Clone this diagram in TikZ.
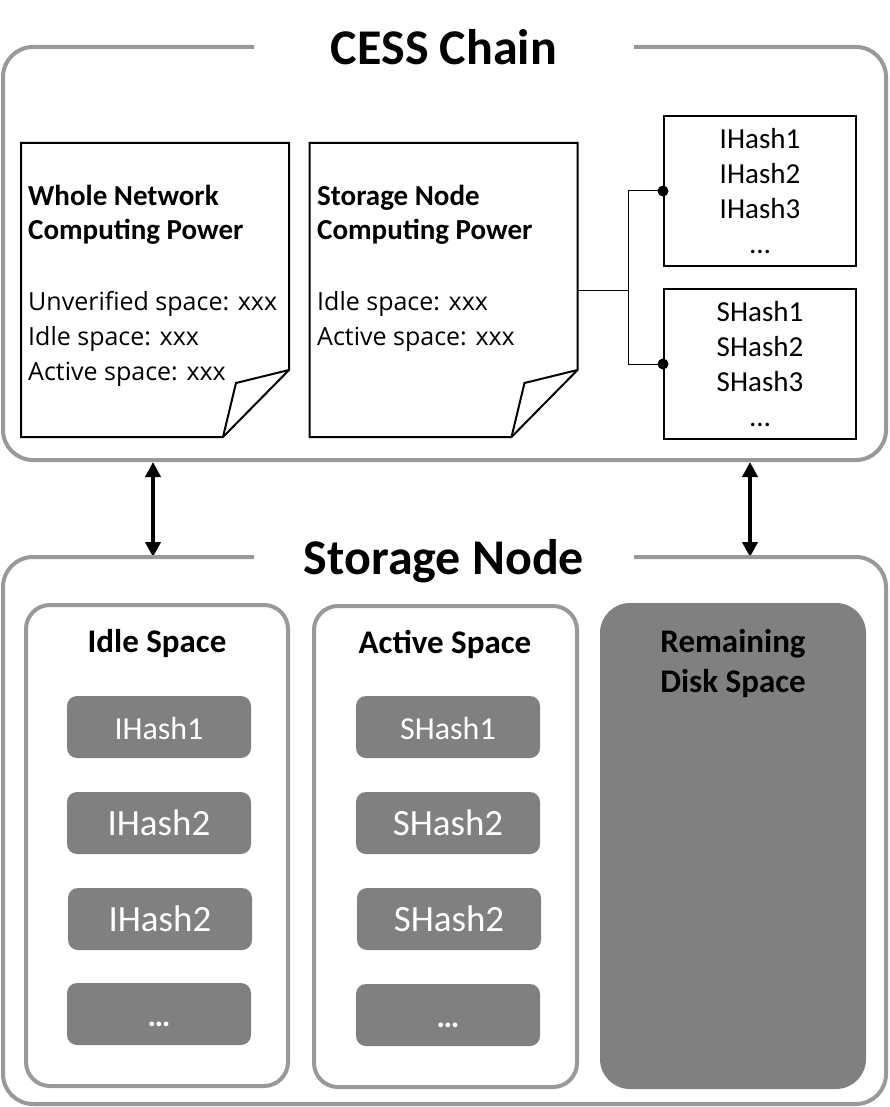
\documentclass[tikz,border=0pt]{standalone}
\usepackage{fontspec}
\setmainfont{Carlito}
\newfontfamily\docfont{Open Sans}
\usetikzlibrary{arrows.meta}
\definecolor{framegray}{HTML}{999999}
\definecolor{boxgray}{HTML}{808080}
\begin{document}
\begin{tikzpicture}[x=1pt,y=-1pt,
  frame/.style={draw=framegray, line width=4pt, rounded corners=30pt},
  subframe/.style={draw=framegray, line width=4pt, rounded corners=24pt},
  bigtitle/.style={font=\fontsize{50}{60}\selectfont\bfseries, anchor=base, inner sep=0pt},
  doctitle/.style={font=\fontsize{29}{35}\selectfont\bfseries, anchor=base west, inner sep=0pt},
  doctext/.style={font=\docfont\fontsize{25}{35}\selectfont, anchor=base west, inner sep=0pt},
  docarea/.style={minimum width=268pt, minimum height=294pt, inner sep=0pt, outer sep=0pt},
  docpaper/.style={draw=black, line width=2pt, line join=miter},
  hashlist/.style={draw=black, line width=2pt, minimum width=192pt, minimum height=150pt, align=center, font=\fontsize{29}{35}\selectfont, inner sep=0pt},
  hashtile/.style={fill=boxgray, rounded corners=10pt, minimum width=184pt, minimum height=62pt, text=white, inner sep=0pt, text height=25pt, text depth=0pt},
  tilesmall/.style={font=\fontsize{32}{38}\selectfont},
  tilebig/.style={font=\fontsize{37}{44}\selectfont},
  spacetitle/.style={font=\fontsize{33}{40}\selectfont\bfseries, anchor=base, inner sep=0pt},
  dual/.style={line width=4pt, {Triangle[width=15pt,length=15pt]}-{Triangle[width=15pt,length=15pt]}},
  link/.style={draw=black, line width=1pt},
]
\useasboundingbox (0,0) rectangle (889,1107);
\fill[white] (0,0) rectangle (889,1107);

% ---- CESS Chain frame ----
\draw[frame] (254,47) -- (3,47) -- (3,460) -- (886,460) -- (886,47) -- (634,47);
\node[bigtitle] (chaintitle) at (444,65) {CESS Chain};

% documents
\node[docarea] (docA) at (155,290) {};
\draw[docpaper] (docA.north west) -- (docA.north east) -- ([yshift=67pt]docA.south east)
  -- ([xshift=-66pt]docA.south east) -- (docA.south west) -- cycle;
\draw[docpaper] ([yshift=67pt]docA.south east) -- ([xshift=-53pt,yshift=54pt]docA.south east) -- ([xshift=-66pt]docA.south east);
\node[doctitle] (dA1) at (28,206) {Whole Network};
\node[doctitle] (dA2) at (28,240) {Computing Power};
\node[doctext] (dA3) at (28,310) {Unverified space: xxx};
\node[doctext] (dA4) at (28,345) {Idle space: xxx};
\node[doctext] (dA5) at (28,380) {Active space: xxx};

\node[docarea] (docB) at (443.5,290) {};
\draw[docpaper] (docB.north west) -- (docB.north east) -- ([yshift=67pt]docB.south east)
  -- ([xshift=-66pt]docB.south east) -- (docB.south west) -- cycle;
\draw[docpaper] ([yshift=67pt]docB.south east) -- ([xshift=-53pt,yshift=54pt]docB.south east) -- ([xshift=-66pt]docB.south east);
\node[doctitle] (dB1) at (317,206) {Storage Node};
\node[doctitle] (dB2) at (317,240) {Computing Power};
\node[doctext] (dB3) at (317,310) {Idle space: xxx};
\node[doctext] (dB4) at (317,345) {Active space: xxx};

% hash lists
\node[hashlist] (ih) at (760,191) {IHash1\\IHash2\\IHash3\\…};
\node[hashlist] (sh) at (760,364) {SHash1\\SHash2\\SHash3\\…};
\coordinate (jn) at (628,290);
\draw[link] (docB.east) -- (jn);
\draw[link] (jn) |- (ih.west);
\draw[link] (jn) |- (sh.west);
\fill (ih.west) circle (5.5pt);
\fill (sh.west) circle (5.5pt);

% arrows
\coordinate (a1t) at (153,462);
\coordinate (a1b) at (153,557);
\coordinate (a2t) at (750,462);
\coordinate (a2b) at (750,557);
\draw[dual] (a1t) -- (a1b);
\draw[dual] (a2t) -- (a2b);

% ---- Storage Node frame ----
\draw[frame] (254,557) -- (3,557) -- (3,1104) -- (886,1104) -- (886,557) -- (634,557);
\node[bigtitle] (nodetitle) at (444,574) {Storage Node};

\draw[subframe] (26,605) rectangle (288,1086);
\draw[subframe] (314,606) rectangle (577,1087);
\fill[boxgray, rounded corners=30pt] (600,603) rectangle (866,1089);

\node[spacetitle] (idlet) at (157,652) {Idle Space};
\node[spacetitle] (activet) at (445,653) {Active Space};
\node[spacetitle] (remt1) at (733,652) {Remaining};
\node[spacetitle] (remt2) at (733,692) {Disk Space};

\node[hashtile, tilesmall] (i1) at (159,727) {IHash1};
\node[hashtile, tilebig] (i2) at (159,823) {IHash2};
\node[hashtile, tilebig] (i3) at (160,919) {IHash2};
\node[hashtile, tilesmall] (i4) at (159,1014) {\bfseries …};

\node[hashtile, tilesmall] (s1) at (448,727) {SHash1};
\node[hashtile, tilebig] (s2) at (448,823) {SHash2};
\node[hashtile, tilebig] (s3) at (449,919) {SHash2};
\node[hashtile, tilesmall] (s4) at (448,1015) {\bfseries …};
\end{tikzpicture}
\end{document}
